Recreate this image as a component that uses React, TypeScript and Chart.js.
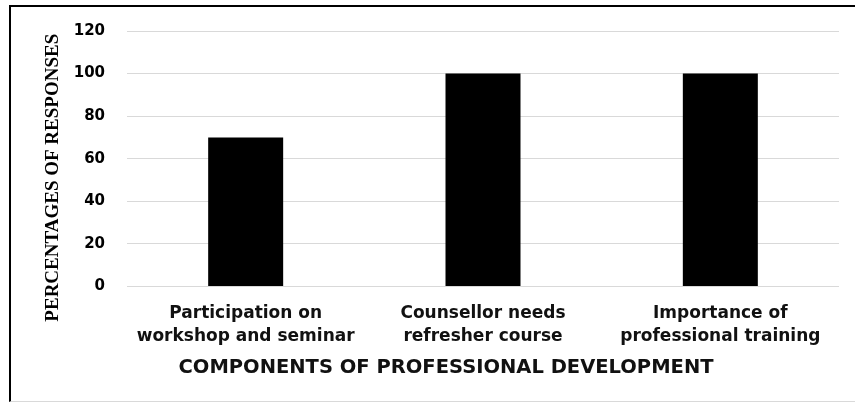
import { useEffect, useRef } from "react";
import { Chart, registerables } from "chart.js";

Chart.register(...registerables);

const categories: string[][] = [
  ["Participation on", "workshop and seminar"],
  ["Counsellor needs", "refresher course"],
  ["Importance of", "professional training"],
];
const percentages: number[] = [70, 100, 100];
const yMin = 0;
const yMax = 120;
const yStep = 20;
const yTitle = "PERCENTAGES OF RESPONSES";
const xTitle = "COMPONENTS OF PROFESSIONAL DEVELOPMENT";

export default function App() {
  const ref = useRef<HTMLCanvasElement>(null);

  useEffect(() => {
    const chart = new Chart(ref.current as HTMLCanvasElement, {
      type: "bar",
      data: {
        labels: categories,
        datasets: [
          {
            data: percentages,
            backgroundColor: "#000000",
            borderWidth: 0,
            barPercentage: 0.316,
            categoryPercentage: 1,
          },
        ],
      },
      options: {
        animation: false,
        responsive: true,
        maintainAspectRatio: false,
        layout: { padding: { left: 53, right: 16, top: 27, bottom: 0 } },
        plugins: {
          legend: { display: false },
          tooltip: { enabled: false },
          title: {
            display: true,
            text: xTitle,
            position: "bottom",
            color: "#111111",
            font: { family: "'DejaVu Sans'", size: 19.5, weight: "bold", lineHeight: 1.2 },
            padding: { top: 0, bottom: 22.6 },
          },
        },
        scales: {
          x: {
            grid: { display: false },
            border: { display: false },
            ticks: {
              color: "#111111",
              font: { family: "'DejaVu Sans'", size: 17, weight: "bold", lineHeight: 1.38 },
              padding: 7,
              maxRotation: 0,
              autoSkip: false,
            },
            afterFit: (s: any) => {
              s.height = 69.6;
            },
          },
          y: {
            min: yMin,
            max: yMax,
            ticks: {
              stepSize: yStep,
              color: "#000000",
              font: { family: "'DejaVu Sans'", size: 15, weight: "bold" },
              padding: 22,
            },
            grid: { color: "#d9d9d9", drawTicks: false, lineWidth: 1 },
            border: { display: false },
            title: {
              display: true,
              text: yTitle + "        ",
              color: "#000000",
              font: { family: "'Liberation Serif'", size: 19, weight: "bold", lineHeight: 1.2 },
              padding: { top: -11.8, bottom: 0 },
            },
            afterFit: (s: any) => {
              s.width = 74;
            },
          },
        },
      },
    });
    return () => chart.destroy();
  }, []);

  return (
    <div
      style={{
        position: "fixed",
        left: 0,
        top: 0,
        width: 855,
        height: 402,
        overflow: "hidden",
        background: "#ffffff",
      }}
    >
      <div
        style={{
          position: "absolute",
          left: 9,
          top: 5,
          width: 846,
          height: 397,
          boxSizing: "border-box",
          borderTop: "2px solid #000",
          borderLeft: "2px solid #000",
          borderBottom: "1px solid #d9d9d9",
        }}
      />
      <div style={{ position: "absolute", left: 0, top: 0, width: 855, height: 402 }}>
        <canvas ref={ref} />
      </div>
    </div>
  );
}
